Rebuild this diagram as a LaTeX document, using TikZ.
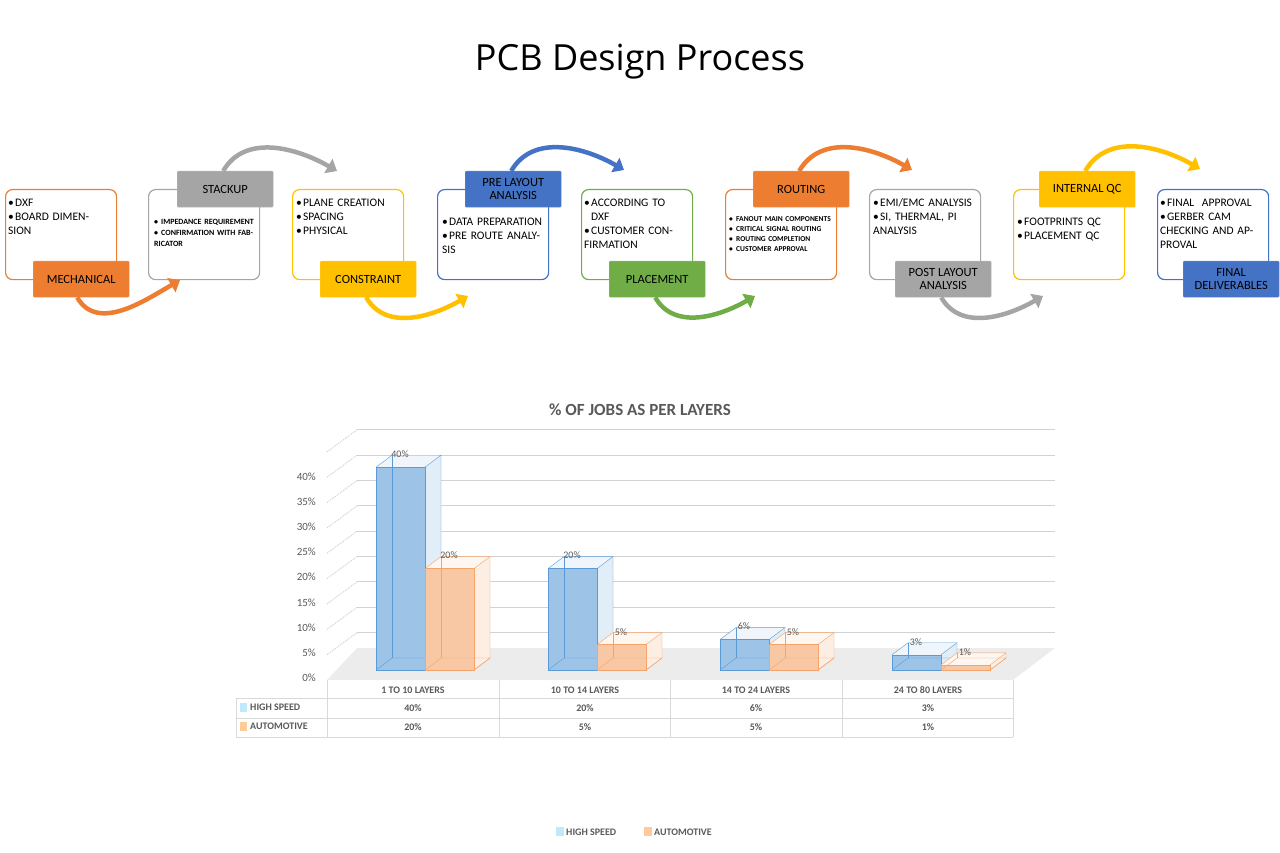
\documentclass[tikz,border=0pt]{standalone}
\usepackage{fontspec}
\setmainfont{Carlito}
\newfontfamily\titlefont{Open Sans}
\usetikzlibrary{arrows.meta}
\definecolor{cOrange}{HTML}{ED7D31}
\definecolor{cGray}{HTML}{A5A5A5}
\definecolor{cYellow}{HTML}{FFC000}
\definecolor{cBlue}{HTML}{4472C4}
\definecolor{cGreen}{HTML}{70AD47}
\definecolor{barBlue}{HTML}{5B9BD5}
\definecolor{barOrange}{HTML}{F4A36A}
\definecolor{txtGray}{HTML}{595959}
\newcommand\itm[1]{\par\hangindent=7pt\hangafter=1\noindent\makebox[7pt][l]{\textbullet}#1}
% cuboid bar: x, percent, colour, name
\newcommand\cuboid[4]{%
\pgfmathsetmacro\tp{670-5.07*#2}
\fill[#3!12] (#1+16,\tp-12) rectangle (#1+65,658);
\fill[#3!18] (#1+49,\tp) -- (#1+65,\tp-12) -- (#1+65,658) -- (#1+49,670) -- cycle;
\fill[#3!10] (#1,\tp) -- (#1+16,\tp-12) -- (#1+65,\tp-12) -- (#1+49,\tp) -- cycle;
\fill[#3!60] (#1,\tp) rectangle (#1+49,670);
\draw[#3,thin] (#1,670) -- (#1+16,658) -- (#1+65,658) -- (#1+49,670);
\draw[#3,thin] (#1+16,658) -- (#1+16,\tp-12);
\draw[#3] (#1,\tp) rectangle (#1+49,670);
\draw[#3] (#1,\tp) -- (#1+16,\tp-12) -- (#1+65,\tp-12) -- (#1+49,\tp);
\draw[#3] (#1+65,\tp-12) -- (#1+65,658) -- (#1+49,670);
\node[val] (#4) at (#1+24,\tp-13) {#2\%};
}

\begin{document}
\begin{tikzpicture}[x=1pt,y=-1pt,
  card/.style={draw=#1,line width=1.2pt,rounded corners=7pt,anchor=north west,
    minimum width=111pt,minimum height=90pt},
  tag/.style={fill=#1,draw=#1!80!white,rounded corners=1pt,anchor=north west,
    minimum width=96pt,minimum height=36pt,align=center,font=\fontsize{12.5}{13}\selectfont,inner sep=1pt},
  txt/.style={anchor=north west,text width=#1,font=\fontsize{11.5}{14}\selectfont,inner sep=0pt},
  small/.style={anchor=north west,text width=#1,font=\bfseries\fontsize{8}{11}\selectfont,inner sep=0pt},
  flow/.style={draw=#1,line width=4.5pt,-{Triangle[length=10pt,width=16pt]}},
  val/.style={text=txtGray,font=\fontsize{10}{10}\selectfont,inner sep=0pt},
  tick/.style={text=txtGray,font=\fontsize{11}{11}\selectfont,anchor=east,inner sep=0pt},
  cell/.style={text=txtGray,font=\bfseries\fontsize{10}{10}\selectfont,inner sep=0pt}]
\useasboundingbox (0,0) rectangle (1280,853);
\node[font=\titlefont\fontsize{36}{36}\selectfont] (title) at (640,62) {PCB Design Process};

% process cards
\node[card=cOrange] (mechbox) at (5,189) {};
\node[card=cGray] (stackbox) at (148,189) {};
\node[card=cYellow] (consbox) at (292,189) {};
\node[card=cBlue] (prebox) at (437,189) {};
\node[card=cGreen] (placebox) at (581,189) {};
\node[card=cOrange] (routebox) at (725,189) {};
\node[card=cGray] (postbox) at (869,189) {};
\node[card=cYellow] (qcbox) at (1013,189) {};
\node[card=cBlue] (finalbox) at (1157,189) {};

\node[txt=100pt] (mechtxt) at (8,192) {\itm{DXF}\itm{BOARD DIMENSION}};
\node[small=100pt] (stacktxt) at (154,213) {\itm{IMPEDANCE REQUIREMENT}\itm{CONFIRMATION WITH FABRICATOR}};
\node[txt=105pt] (constxt) at (296,192) {\itm{PLANE CREATION}\itm{SPACING}\itm{PHYSICAL}};
\node[txt=100pt] (pretxt) at (442,211) {\itm{DATA PREPARATION}\itm{PRE ROUTE ANALYSIS}};
\node[txt=100pt] (placetxt) at (584,192) {\itm{ACCORDING TO DXF}\itm{CUSTOMER CONFIRMATION}};
\node[small=105pt,font=\bfseries\fontsize{7.5}{10}\selectfont] (routetxt) at (729,211) {\itm{FANOUT MAIN COMPONENTS}\itm{CRITICAL SIGNAL ROUTING}\itm{ROUTING COMPLETION}\itm{CUSTOMER APPROVAL}};
\node[txt=100pt] (posttxt) at (873,192) {\itm{EMI/EMC ANALYSIS}\itm{SI, THERMAL, PI ANALYSIS}};
\node[txt=100pt] (qctxt) at (1017,211) {\itm{FOOTPRINTS QC}\itm{PLACEMENT QC}};
\node[txt=105pt] (finaltxt) at (1160,192) {\itm{FINAL\ \ APPROVAL}\itm{GERBER CAM CHECKING AND APPROVAL}};

% step labels
\node[tag=cOrange] (mech) at (33,261) {MECHANICAL};
\node[tag=cGray] (stack) at (177,171) {STACKUP};
\node[tag=cYellow] (cons) at (320,261) {CONSTRAINT};
\node[tag=cBlue] (pre) at (465,171) {PRE LAYOUT\\ANALYSIS};
\node[tag=cGreen] (place) at (609,261) {PLACEMENT};
\node[tag=cOrange] (route) at (753,171) {ROUTING};
\node[tag=cGray] (post) at (895,261) {POST LAYOUT\\ANALYSIS};
\node[tag=cYellow] (qc) at (1039,171) {INTERNAL QC};
\node[tag=cBlue] (final) at (1183,261) {FINAL\\DELIVERABLES};

% connecting arrows
\draw[flow=cOrange] ([xshift=-4pt]mech.south) to[out=-60,in=-150] (stackbox.south west -| 180,0) ;
\draw[flow=cGray] ([xshift=-2pt]stack.north) to[out=60,in=150] (337,171);
\draw[flow=cYellow] ([xshift=-2pt]cons.south) to[out=-60,in=-150] (468,296);
\draw[flow=cBlue] ([xshift=-2pt]pre.north) to[out=60,in=150] (624,170);
\draw[flow=cGreen] ([xshift=-2pt]place.south) to[out=-60,in=-150] (755,296);
\draw[flow=cOrange] ([xshift=-2pt]route.north) to[out=60,in=150] (912,170);
\draw[flow=cGray] ([xshift=-2pt]post.south) to[out=-60,in=-150] (1043,296);
\draw[flow=cYellow] ([xshift=-2pt]qc.north) to[out=60,in=150] (1200,169);

% chart
\node[text=txtGray,font=\bfseries\fontsize{17}{17}\selectfont] (charttitle) at (640,410) {\% OF JOBS AS PER LAYERS};
\fill[gray!15] (327,680) -- (1013,680) -- (1055,648) -- (357,648) -- cycle;
\foreach \k in {1,...,9}{
  \pgfmathsetmacro\gy{658-25.35*\k}
  \draw[gray!35,line width=1pt] (357,\gy) -- (1055,\gy);
  \draw[gray!35,densely dotted,line width=1pt] (327,\gy+22) -- (357,\gy);
}
\foreach \k in {0,...,8}{
  \pgfmathtruncatemacro\pc{5*\k}
  \node[tick] (tick\k) at (316,678-25.2*\k) {\pc\%};
}
\cuboid{376}{40}{barBlue}{v1a}
\cuboid{425}{20}{barOrange}{v1b}
\cuboid{548}{20}{barBlue}{v2a}
\cuboid{597}{5}{barOrange}{v2b}
\cuboid{720}{6}{barBlue}{v3a}
\cuboid{769}{5}{barOrange}{v3b}
\cuboid{892}{3}{barBlue}{v4a}
\cuboid{941}{1}{barOrange}{v4b}

% data table
\draw[gray!30] (327,680) -- (327,737) (499,680) -- (499,737) (670,680) -- (670,737)
  (842,680) -- (842,737) (1013,680) -- (1013,737);
\draw[gray!30] (327,698) -- (1013,698) (236,698) -- (1013,698) (236,718) -- (1013,718) (236,737) -- (1013,737)
  (236,698) -- (236,737);
\node[cell] (c1) at (413,690) {1 TO 10 LAYERS};
\node[cell] (c2) at (585,690) {10 TO 14 LAYERS};
\node[cell] (c3) at (756,690) {14 TO 24 LAYERS};
\node[cell] (c4) at (928,690) {24 TO 80 LAYERS};
\fill[cyan!25] (240,703) rectangle (247,712);
\fill[orange!40] (240,722) rectangle (247,731);
\node[cell,anchor=west] (r1) at (250,707) {HIGH SPEED};
\node[cell,anchor=west] (r2) at (250,726) {AUTOMOTIVE};
\node[cell] (h1) at (413,708) {40\%};
\node[cell] (h2) at (585,708) {20\%};
\node[cell] (h3) at (756,708) {6\%};
\node[cell] (h4) at (928,708) {3\%};
\node[cell] (a1) at (413,727) {20\%};
\node[cell] (a2) at (585,727) {5\%};
\node[cell] (a3) at (756,727) {5\%};
\node[cell] (a4) at (928,727) {1\%};

% legend
\fill[cyan!25] (556,827) rectangle (564,836);
\node[cell,anchor=west] (lg1) at (566,832) {HIGH SPEED};
\fill[orange!40] (644,827) rectangle (652,836);
\node[cell,anchor=west] (lg2) at (654,832) {AUTOMOTIVE};
\end{tikzpicture}
\end{document}
